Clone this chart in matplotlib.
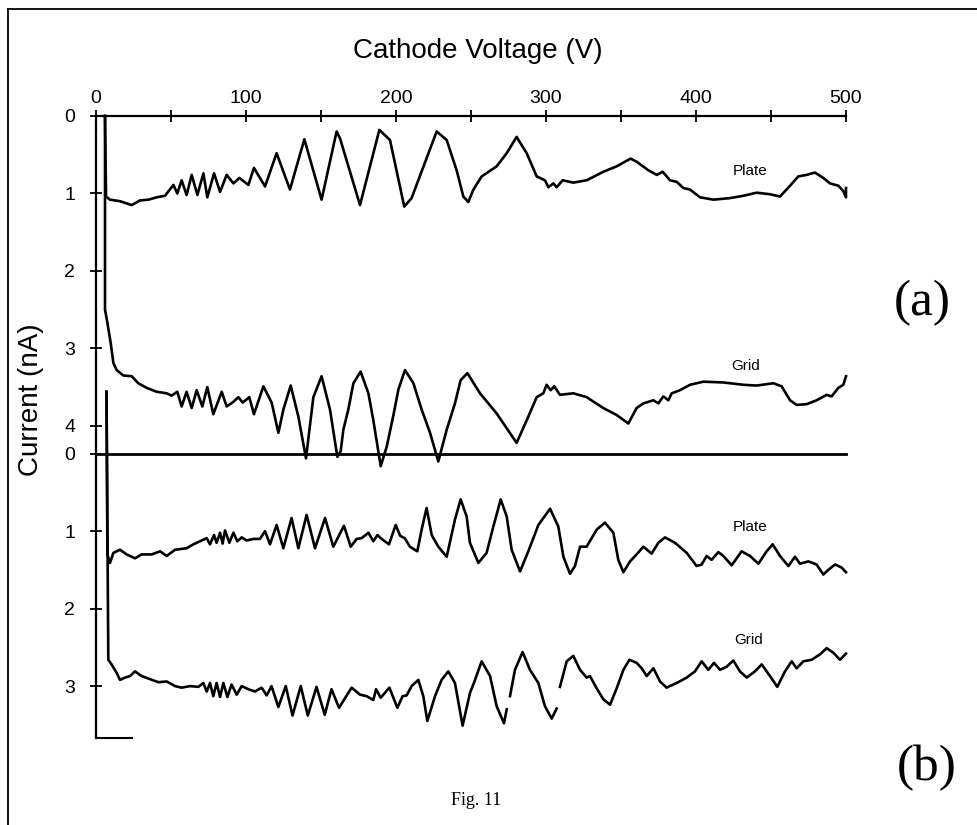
import numpy as np
import matplotlib

matplotlib.use('Agg')
import matplotlib.pyplot as plt
from matplotlib.lines import Line2D

plt.rcParams['font.family'] = ['Liberation Sans', 'DejaVu Sans']

# ---- data (V, nA) ----
# panel (a) plate current
plate_a_v = [6, 6.7, 9.3, 16, 23.8, 29.3, 35, 40.4, 46, 51.6, 54.2, 57.1, 60.4, 63.8, 67.6, 71.6, 74.2,
             78.7, 82.7, 87.1, 91.6, 95.6, 101.6, 105.3, 112.7, 120.4, 129.3, 138.9, 150.4, 160.4,
             162.7, 176, 188.9, 196, 205.5, 210.4, 227.1, 233.8, 240.4, 244.9, 248.2, 251.6, 257.1,
             267.1, 273.8, 280.4, 287.1, 293.8, 299.3, 301.6, 304.9, 307.1, 311.1, 318.2, 327.1,
             338.2, 347.1, 356.4, 360.4, 368.2, 373.8, 377.8, 382.7, 387.1, 391.6, 396, 402.7,
             411.6, 422.7, 431.6, 440.4, 449.3, 456, 462.7, 468.2, 473.8, 479.3, 484.9, 489.3,
             494.9, 498.2, 500, 500]
plate_a_i = [0.0, 1.04, 1.08, 1.10, 1.15, 1.09, 1.08, 1.05, 1.03, 0.89, 1.00, 0.83, 1.02, 0.76, 1.02,
             0.74, 1.05, 0.74, 0.98, 0.76, 0.87, 0.80, 0.89, 0.67, 0.91, 0.48, 0.95, 0.30, 1.08, 0.20,
             0.29, 1.15, 0.18, 0.31, 1.17, 1.06, 0.20, 0.31, 0.70, 1.04, 1.11, 0.95, 0.78,
             0.65, 0.48, 0.27, 0.48, 0.78, 0.83, 0.92, 0.87, 0.92, 0.83, 0.86, 0.83,
             0.72, 0.65, 0.55, 0.59, 0.70, 0.76, 0.72, 0.83, 0.85, 0.93, 0.95, 1.05,
             1.08, 1.06, 1.03, 0.99, 1.01, 1.04, 0.90, 0.78, 0.76, 0.73, 0.80, 0.87,
             0.90, 0.97, 1.05, 0.93]

# panel (a) grid current
grid_a_v = [6, 6, 7.6, 9.8, 11.6, 13.8, 18.2, 23.8, 28.2, 33.8, 40.4, 47.1, 50.4, 54.2, 57.1, 60.4,
            63.8, 67.1, 70.9, 74.2, 78.2, 83.8, 87.1, 91.6, 94.9, 97.8, 102.2, 105.3, 111.6, 117.1,
            121.6, 124.9, 129.8, 134.9, 140, 144.9, 150.4, 156, 160.9, 163.1, 164.9, 168.2, 171.6,
            176.4, 181.6, 184.9, 189.8, 193.8, 198.2, 201.6, 206, 211.6, 217.1, 222.7, 228.2,
            233.8, 239.3, 243.1, 247.6, 256, 267.1, 280.4, 287.1, 293.8, 298.2, 300.4, 303.1,
            305.5, 309.3, 318.2, 327.1, 338.2, 347.1, 354.9, 360.4, 364.9, 371.6, 374.9, 378.2,
            381.6, 383.8, 389.3, 396, 404.9, 418.2, 431.6, 440.4, 451.6, 457.1, 462.7, 467.1,
            473.8, 480.4, 487.1, 490.4, 494.9, 498.2, 500]
grid_a_i = [0.0, 2.50, 2.67, 2.93, 3.19, 3.28, 3.35, 3.36, 3.45, 3.51, 3.56, 3.58, 3.61, 3.56, 3.75,
            3.56, 3.77, 3.54, 3.75, 3.50, 3.85, 3.56, 3.75, 3.69, 3.63, 3.70, 3.63, 3.85, 3.49, 3.70,
            4.09, 3.79, 3.48, 3.88, 4.42, 3.63, 3.36, 3.79, 4.40, 4.33, 4.05, 3.79, 3.45,
            3.30, 3.58, 3.93, 4.52, 4.27, 3.87, 3.53, 3.28, 3.45, 3.79, 4.09, 4.46,
            4.05, 3.71, 3.41, 3.32, 3.58, 3.84, 4.22, 3.93, 3.63, 3.58, 3.47, 3.54,
            3.49, 3.60, 3.58, 3.63, 3.77, 3.86, 3.97, 3.77, 3.71, 3.67, 3.71, 3.62,
            3.67, 3.58, 3.54, 3.47, 3.43, 3.44, 3.47, 3.48, 3.45, 3.49, 3.67, 3.73,
            3.72, 3.67, 3.60, 3.62, 3.51, 3.47, 3.36]

# panel (b) plate current
plate_b_v = [7.0, 7.6, 9.3, 11.6, 16, 20.4, 26, 30.4, 37.1, 42.7, 47.1, 52.7, 60.4, 64.9, 69.3, 73.8,
             76, 78.7, 80.4, 82.7, 84.4, 86, 88.9, 91.6, 94.2, 97.1, 100.4, 104.9, 109.3, 112.7,
             116, 120.4, 124.9, 130.4, 134.9, 140.4, 146, 152.7, 158.2, 165.3, 169.8, 173.8, 177.1,
             181.6, 184.9, 187.6, 190.4, 195.3, 199.8, 202.8, 205.8, 209.3, 214.2, 217.1, 220.4,
             223.8, 228.2, 233.8, 239.3, 243.1, 247.1, 249.3, 254.9, 260.4, 264.9, 269.8, 273.8,
             277.1, 282.7, 288.2, 294.9, 302.7, 308.2, 311.6, 316, 319.3, 322.7, 327.1, 333.8,
             339.3, 344.9, 348.2, 351.6, 356, 360.4, 364.9, 370.4, 374.9, 379.3, 386, 393.8,
             400.4, 403.8, 407.1, 410.4, 414.9, 418.2, 423.8, 430.4, 436, 441.6, 447.1, 451.1,
             456, 461.6, 466, 469.3, 474.9, 480.4, 484.9, 488.2, 492.7, 497.1, 500]
plate_b_i = [-0.8, 1.30, 1.41, 1.28, 1.24, 1.30, 1.35, 1.30, 1.30, 1.26, 1.32, 1.24, 1.22, 1.17, 1.13,
             1.09, 1.17, 1.05, 1.15, 1.02, 1.16, 0.99, 1.15, 1.02, 1.13, 1.08, 1.12, 1.10, 1.10, 1.00,
             1.17, 0.92, 1.22, 0.83, 1.22, 0.79, 1.22, 0.83, 1.20, 0.93, 1.20, 1.10, 1.09,
             1.02, 1.13, 1.05, 1.10, 1.17, 0.92, 1.06, 1.09, 1.20, 1.26, 0.98, 0.70,
             1.05, 1.20, 1.33, 0.85, 0.59, 0.81, 1.15, 1.41, 1.28, 0.94, 0.59, 0.81,
             1.24, 1.52, 1.26, 0.92, 0.71, 0.94, 1.33, 1.55, 1.45, 1.20, 1.20, 0.98,
             0.89, 1.02, 1.37, 1.53, 1.39, 1.30, 1.20, 1.29, 1.15, 1.08, 1.15, 1.28,
             1.45, 1.43, 1.32, 1.37, 1.27, 1.32, 1.44, 1.26, 1.32, 1.42, 1.26, 1.17,
             1.32, 1.45, 1.33, 1.42, 1.39, 1.43, 1.56, 1.50, 1.43, 1.47, 1.53]

# panel (b) grid current (NaN = gap in the trace)
grid_b_v = [7.0, 8.2, 10.4, 13.8, 16, 19.3, 22.7, 26, 30.4, 36, 41.6, 47.1, 52.7, 57.1, 62.7, 68.2,
            71.6, 73.8, 76, 78.2, 80.4, 82.7, 84.9, 87.6, 90.4, 93.8, 97.1, 101.6, 106, 110.4,
            113.8, 117, 121.6, 126.5, 131, 136.5, 141.2, 147, 152.5, 157, 162, 170.4, 176, 180.4,
            184.9, 186.7, 189.8, 195.6, 200.9, 204.4, 207.1, 210.4, 214.9, 218.2, 220.9, 226,
            230.4, 234.9, 239.3, 244.4, 249.3, 252.7, 257.1, 262.7, 267.1, 272, 273.8, 274.9,
            276, 279.3, 284.4, 289.3, 294.9, 299.3, 303.8, 307.1, 308.2,
            309.3, 313.8, 318.2, 322.7, 327.1, 329.3, 333.8, 338.2, 342.7, 347.1, 351.6, 355.6,
            360.4, 363.8, 367.1, 371.6, 376, 380.4, 387.1, 393.8, 399.3, 403.8, 408.2, 412, 416,
            420.4, 424.9, 429.3, 433.8, 439.3, 443.8, 449.3, 454.2, 459.3, 463.8, 467.1, 471.6,
            477.1, 482.7, 487.1, 491.6, 496, 500]
grid_b_i = [-0.8, 2.66, 2.72, 2.83, 2.92, 2.89, 2.87, 2.81, 2.87, 2.91, 2.95, 2.94, 3.00, 3.02, 3.00,
            3.01, 2.96, 3.07, 2.96, 3.13, 2.96, 3.14, 2.96, 3.14, 2.98, 3.11, 3.00, 3.04, 3.07, 3.02,
            3.12, 3.00, 3.27, 3.00, 3.38, 3.00, 3.38, 3.01, 3.37, 3.04, 3.28, 3.02, 3.11, 3.13,
            3.18, 3.04, 3.15, 3.02, 3.28, 3.13, 3.12, 3.00, 2.92, 3.13, 3.45, 3.13,
            2.92, 2.81, 2.96, 3.51, 3.09, 2.92, 2.68, 2.87, 3.26, 3.48, 3.30, np.nan,
            3.13, 2.79, 2.56, 2.79, 2.96, 3.26, 3.42, 3.29, np.nan,
            3.01, 2.68, 2.61, 2.79, 2.89, 2.87, 3.03, 3.17, 3.24, 3.03, 2.79, 2.66,
            2.70, 2.77, 2.87, 2.77, 2.94, 3.02, 2.96, 2.89, 2.81, 2.68, 2.79, 2.70, 2.79,
            2.75, 2.67, 2.81, 2.89, 2.81, 2.72, 2.87, 3.01, 2.81, 2.68, 2.77, 2.68,
            2.66, 2.59, 2.51, 2.57, 2.66, 2.58]

B_ZERO = 4.36  # where panel (b)'s zero sits on the shared current axis
x_major = list(range(0, 501, 100))
x_minor = list(range(50, 500, 100))
y_labels = ['0', '1', '2', '3', '4', '0', '1', '2', '3']

fig = plt.figure(figsize=(9.78, 8.25), dpi=100)
ax = fig.add_axes([96 / 978, 1 - 738 / 825, 750 / 978, 622 / 825])

line_kw = dict(color='black', lw=1.9, clip_on=False, solid_joinstyle='round')
ax.plot(plate_a_v, plate_a_i, **line_kw)
ax.plot(grid_a_v, grid_a_i, **line_kw)
ax.plot(plate_b_v, np.array(plate_b_i) + B_ZERO, **line_kw)
ax.plot(grid_b_v, np.array(grid_b_i) + B_ZERO, **line_kw)

# divider = zero line of panel (b), plus the short bottom stub
ax.plot([0, 500], [B_ZERO, B_ZERO], color='black', lw=2.0, clip_on=False)
ax.plot([0, 24], [8.03, 8.03], color='black', lw=1.5, clip_on=False)

ax.set_xlim(0, 500)
ax.set_ylim(8.03, 0)

ax.xaxis.tick_top()
ax.set_xticks(x_major)
ax.set_xticks(x_minor, minor=True)
ax.tick_params(axis='x', which='both', direction='inout', length=9, width=1.3,
               pad=2, labelsize=14)

y_pos = [0, 1, 2, 3, 4] + [B_ZERO + k for k in range(4)]
ax.set_yticks(y_pos)
ax.set_yticklabels(y_labels)
ax.tick_params(axis='y', direction='inout', length=8, width=1.3, pad=11, labelsize=14)

for s in ['right', 'bottom']:
    ax.spines[s].set_visible(False)
for s in ['left', 'top']:
    ax.spines[s].set_linewidth(1.6)

# curve labels
lab_kw = dict(fontsize=11, ha='center', va='center')
ax.text(436, 0.71, 'Plate', **lab_kw)
ax.text(433, 3.23, 'Grid', **lab_kw)
ax.text(436, 0.94 + B_ZERO, 'Plate', **lab_kw)
ax.text(435, 2.41 + B_ZERO, 'Grid', **lab_kw)

fig.text(478 / 978, 1 - 58 / 825, 'Cathode Voltage (V)', fontsize=20, ha='center', va='baseline')
fig.text(31 / 978, 1 - 400 / 825, 'Current (nA)', fontsize=20, rotation=90,
         ha='center', va='center')
fig.text(922 / 978, 1 - 303 / 825, '(a)', fontsize=37, family='Liberation Serif',
         ha='center', va='center')
fig.text(927 / 978, 1 - 768 / 825, '(b)', fontsize=37, family='Liberation Serif',
         ha='center', va='center')
fig.text(476 / 978, 1 - 805 / 825, 'Fig. 11', fontsize=13, family='Liberation Serif',
         ha='center', va='baseline')

# scan frame (top and left edges only)
fig.add_artist(Line2D([8 / 978, 1.0], [1 - 9 / 825, 1 - 9 / 825], color='black', lw=1.3))
fig.add_artist(Line2D([8 / 978, 8 / 978], [0.0, 1 - 9 / 825], color='black', lw=1.3))

fig.savefig('out.png', dpi=100)
